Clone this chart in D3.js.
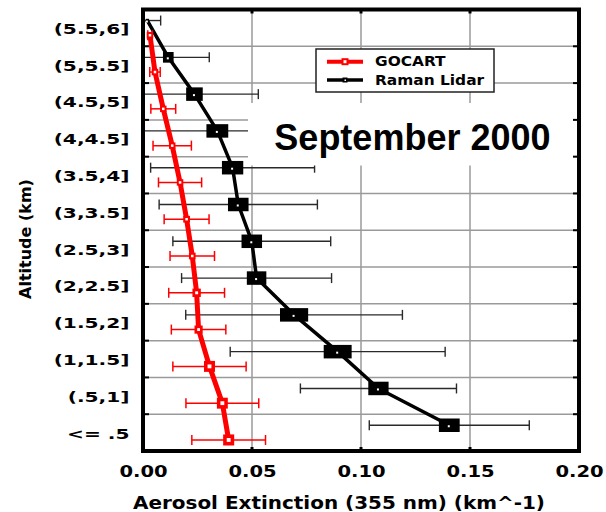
<!DOCTYPE html>
<html><head><meta charset="utf-8">
<script src="https://cdn.jsdelivr.net/npm/d3@7"></script>
<style>body{margin:0;background:#fff}</style>
</head><body>
<svg id="c" width="606" height="512"></svg>
<script>
// ---- data ----
const categories = ["(5.5,6]","(5,5.5]","(4.5,5]","(4,4.5]","(3.5,4]","(3,3.5]","(2.5,3]","(2,2.5]","(1.5,2]","(1,1.5]","(.5,1]","<= .5"];
const lidarMean  = [0.0020, 0.0116, 0.0236, 0.0341, 0.0411, 0.0437, 0.0499, 0.0521, 0.0693, 0.0893, 0.1080, 0.1405];
const lidarStd   = [0.0061, 0.0188, 0.0293, 0.0385, 0.0376, 0.0363, 0.0362, 0.0344, 0.0497, 0.0493, 0.0358, 0.0367];
const gocartMean = [0.0032, 0.0055, 0.0093, 0.0134, 0.0170, 0.0200, 0.0226, 0.0246, 0.0255, 0.0305, 0.0364, 0.0393];
const gocartStd  = [0.0010, 0.0024, 0.0057, 0.0088, 0.0099, 0.0103, 0.0102, 0.0128, 0.0125, 0.0168, 0.0167, 0.0169];
const xTicks = [0, 0.05, 0.10, 0.15, 0.20];
const seriesNames = ["GOCART", "Raman Lidar"];
const titleText = "September 2000";
const xTitle = "Aerosol Extinction (355 nm) (km^-1)";
const yTitle = "Altitude (km)";

// ---- layout ----
const svg = d3.select("#c");
const L = 143, R = 579, T = 9.5, B = 451;
const x = d3.scaleLinear().domain([0, 0.2]).range([L, R]);
const y = d3.scaleBand().domain(categories).range([T, B]).padding(0);
const bw = y.bandwidth();
const off = bw * 0.2;
const FONT = "DejaVu Sans";

function stretch(sel, k) {
  sel.each(function () {
    const w = this.getComputedTextLength();
    this.setAttribute("textLength", w * k);
    this.setAttribute("lengthAdjust", "spacingAndGlyphs");
  });
}

// gridlines
const grid = svg.append("g").attr("stroke", "#9a9a9a").attr("stroke-width", 1.5);
grid.selectAll("line.v").data(xTicks.filter(v => v > 0 && v < 0.2)).enter().append("line")
  .attr("x1", d => x(d)).attr("x2", d => x(d)).attr("y1", T).attr("y2", B);
grid.selectAll("line.h").data(categories.slice(1)).enter().append("line")
  .attr("x1", L).attr("x2", R).attr("y1", d => y(d)).attr("y2", d => y(d));

const lidar = categories.map((c, i) => ({c, m: lidarMean[i], s: lidarStd[i], yy: y(c) + bw / 2 - off}));
const gocart = categories.map((c, i) => ({c, m: gocartMean[i], s: gocartStd[i], yy: y(c) + bw / 2 + off}));

function errorBars(data, color, width) {
  const g = svg.append("g").attr("stroke", color).attr("stroke-width", width);
  data.forEach(d => {
    const lo = x(Math.max(0, d.m - d.s)), hi = x(d.m + d.s);
    g.append("line").attr("x1", lo).attr("x2", hi).attr("y1", d.yy).attr("y2", d.yy);
    g.append("line").attr("x1", lo).attr("x2", lo).attr("y1", d.yy - 5).attr("y2", d.yy + 5);
    g.append("line").attr("x1", hi).attr("x2", hi).attr("y1", d.yy - 5).attr("y2", d.yy + 5);
  });
}
const line = d3.line().x(d => x(d.m)).y(d => d.yy);

// Raman Lidar
errorBars(lidar, "#2a2a2a", 1.4);
svg.append("path").datum(lidar).attr("d", line).attr("fill", "none")
  .attr("stroke", "#000").attr("stroke-width", 3.5).attr("stroke-linejoin", "round");
const lg = svg.append("g");
lidar.forEach(d => {
  const w = Math.max(3, (x(d.s) - x(0)) * 0.26), h = Math.min(w, 13.5);
  lg.append("rect").attr("x", x(d.m) - w / 2).attr("y", d.yy - h / 2).attr("width", w).attr("height", h).attr("fill", "#000");
  lg.append("rect").attr("x", x(d.m) - 1.5).attr("y", d.yy).attr("width", 2).attr("height", 2).attr("fill", "#fff");
});

// GOCART
errorBars(gocart, "#ff0000", 1.5);
svg.append("path").datum(gocart).attr("d", line).attr("fill", "none")
  .attr("stroke", "#ff0000").attr("stroke-width", 5).attr("stroke-linejoin", "round");
const gg = svg.append("g");
gocart.forEach(d => {
  const s = Math.max(6.5, (x(d.s) - x(0)) * 0.3), inner = Math.max(2.5, s * 0.35);
  gg.append("rect").attr("x", x(d.m) - s / 2).attr("y", d.yy - s / 2).attr("width", s).attr("height", s).attr("fill", "#ff0000");
  gg.append("rect").attr("x", x(d.m) - inner / 2).attr("y", d.yy - inner / 2).attr("width", inner).attr("height", inner).attr("fill", "#fff");
});

// title box + title
svg.append("rect").attr("x", 248).attr("y", 103).attr("width", R - 248).attr("height", 62.5).attr("fill", "#fff");
svg.append("text").attr("x", 550.5).attr("y", 150).attr("text-anchor", "end")
  .attr("font-family", "Liberation Sans, Arial, sans-serif").attr("font-weight", "bold").attr("font-size", 36)
  .text(titleText);

// legend
const leg = svg.append("g");
leg.append("rect").attr("x", 316).attr("y", 49).attr("width", 178).attr("height", 43)
  .attr("fill", "#fff").attr("stroke", "#222").attr("stroke-width", 1.5);
leg.append("line").attr("x1", 327).attr("x2", 363).attr("y1", 61.7).attr("y2", 61.7).attr("stroke", "#ff0000").attr("stroke-width", 4);
leg.append("rect").attr("x", 341.5).attr("y", 58.2).attr("width", 7).attr("height", 7).attr("fill", "#ff0000");
leg.append("rect").attr("x", 343.5).attr("y", 60.2).attr("width", 3).attr("height", 3).attr("fill", "#fff");
leg.append("line").attr("x1", 327).attr("x2", 363).attr("y1", 80).attr("y2", 80).attr("stroke", "#000").attr("stroke-width", 3.5);
leg.append("rect").attr("x", 342.5).attr("y", 77.5).attr("width", 5).attr("height", 5).attr("fill", "#000");
leg.append("rect").attr("x", 344.5).attr("y", 79.5).attr("width", 1.5).attr("height", 1.5).attr("fill", "#fff");
const lt = leg.selectAll("text.l").data(seriesNames).enter().append("text")
  .attr("x", 375).attr("y", (d, i) => i === 0 ? 66 : 85)
  .attr("font-family", FONT).attr("font-weight", "bold").attr("font-size", 14).attr("fill", "#000")
  .text(d => d);
stretch(lt, 1.1);

// axes labels (via d3 axes)
const xa = svg.append("g").attr("transform", `translate(0,${B})`)
  .call(d3.axisBottom(x).tickValues(xTicks).tickFormat(d3.format(".2f")).tickSize(0));
xa.select(".domain").remove();
xa.selectAll("text").attr("y", 25.5).attr("dy", null)
  .attr("font-family", FONT).attr("font-weight", "bold").attr("font-size", 16).attr("fill", "#000");
stretch(xa.selectAll("text"), 1.22);

const ya = svg.append("g").attr("transform", `translate(129.5,0)`)
  .call(d3.axisLeft(y).tickSize(0).tickPadding(0));
ya.select(".domain").remove();
ya.selectAll("text").attr("dy", null).attr("y", 6)
  .attr("font-family", FONT).attr("font-weight", "bold").attr("font-size", 14).attr("fill", "#000");
stretch(ya.selectAll("text"), 1.44);

// axis titles
svg.append("text").attr("x", 339).attr("y", 509).attr("text-anchor", "middle")
  .attr("font-family", FONT).attr("font-weight", "bold").attr("font-size", 17)
  .attr("textLength", 412).attr("lengthAdjust", "spacingAndGlyphs").text(xTitle);
svg.append("text").attr("transform", "translate(31,239) rotate(-90)").attr("text-anchor", "middle")
  .attr("font-family", FONT).attr("font-weight", "bold").attr("font-size", 16).text(yTitle);

// frame ticks
const tk = svg.append("g").attr("stroke", "#000").attr("stroke-width", 2);
categories.slice(1).forEach(c => {
  tk.append("line").attr("x1", L).attr("x2", L + 6).attr("y1", y(c)).attr("y2", y(c));
  tk.append("line").attr("x1", R - 6).attr("x2", R).attr("y1", y(c)).attr("y2", y(c));
});
xTicks.filter(v => v > 0 && v < 0.2).forEach(v => {
  tk.append("line").attr("x1", x(v)).attr("x2", x(v)).attr("y1", T).attr("y2", T + 4).attr("stroke-width", 3);
  tk.append("line").attr("x1", x(v)).attr("x2", x(v)).attr("y1", B - 4).attr("y2", B).attr("stroke-width", 3);
});
svg.append("rect").attr("x", L).attr("y", T).attr("width", R - L).attr("height", B - T)
  .attr("fill", "none").attr("stroke", "#000").attr("stroke-width", 4);
</script>
</body></html>
